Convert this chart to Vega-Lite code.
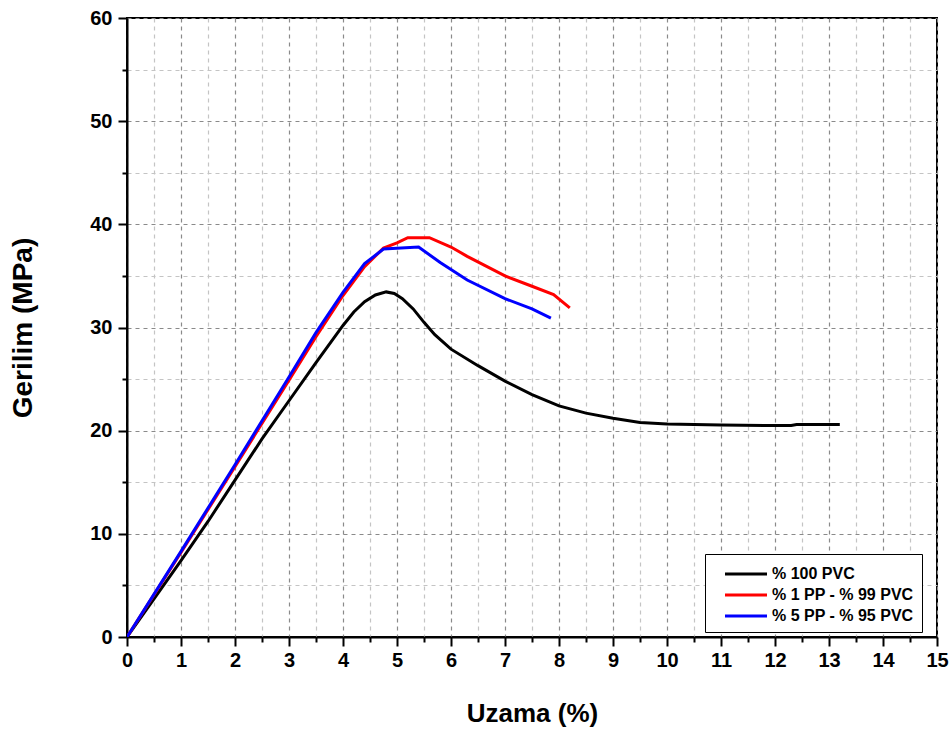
{
  "$schema": "https://vega.github.io/schema/vega-lite/v6.json",
  "width": 810,
  "height": 619,
  "autosize": "none",
  "padding": {"left": 127, "top": 18, "right": 14, "bottom": 101},
  "background": "white",
  "config": {
    "font": "Liberation Sans",
    "view": {"stroke": "black", "strokeWidth": 2}
  },
  "data": {"values": [
    {"x": 0, "y": 0, "s": "% 100 PVC"},
    {"x": 0.5, "y": 3.7, "s": "% 100 PVC"},
    {"x": 1, "y": 7.4, "s": "% 100 PVC"},
    {"x": 1.5, "y": 11.2, "s": "% 100 PVC"},
    {"x": 2, "y": 15.2, "s": "% 100 PVC"},
    {"x": 2.5, "y": 19.2, "s": "% 100 PVC"},
    {"x": 3, "y": 22.9, "s": "% 100 PVC"},
    {"x": 3.5, "y": 26.6, "s": "% 100 PVC"},
    {"x": 4, "y": 30.2, "s": "% 100 PVC"},
    {"x": 4.2, "y": 31.5, "s": "% 100 PVC"},
    {"x": 4.4, "y": 32.5, "s": "% 100 PVC"},
    {"x": 4.6, "y": 33.15, "s": "% 100 PVC"},
    {"x": 4.8, "y": 33.45, "s": "% 100 PVC"},
    {"x": 4.95, "y": 33.3, "s": "% 100 PVC"},
    {"x": 5.1, "y": 32.8, "s": "% 100 PVC"},
    {"x": 5.3, "y": 31.8, "s": "% 100 PVC"},
    {"x": 5.5, "y": 30.5, "s": "% 100 PVC"},
    {"x": 5.7, "y": 29.3, "s": "% 100 PVC"},
    {"x": 6.0, "y": 27.9, "s": "% 100 PVC"},
    {"x": 6.5, "y": 26.3, "s": "% 100 PVC"},
    {"x": 7.0, "y": 24.8, "s": "% 100 PVC"},
    {"x": 7.5, "y": 23.5, "s": "% 100 PVC"},
    {"x": 8.0, "y": 22.4, "s": "% 100 PVC"},
    {"x": 8.5, "y": 21.7, "s": "% 100 PVC"},
    {"x": 9.0, "y": 21.2, "s": "% 100 PVC"},
    {"x": 9.5, "y": 20.8, "s": "% 100 PVC"},
    {"x": 10.0, "y": 20.65, "s": "% 100 PVC"},
    {"x": 11.0, "y": 20.55, "s": "% 100 PVC"},
    {"x": 12.0, "y": 20.5, "s": "% 100 PVC"},
    {"x": 12.3, "y": 20.5, "s": "% 100 PVC"},
    {"x": 12.4, "y": 20.6, "s": "% 100 PVC"},
    {"x": 13.2, "y": 20.6, "s": "% 100 PVC"},
    {"x": 0, "y": 0, "s": "% 1 PP - % 99 PVC"},
    {"x": 1, "y": 8.2, "s": "% 1 PP - % 99 PVC"},
    {"x": 2, "y": 16.5, "s": "% 1 PP - % 99 PVC"},
    {"x": 3, "y": 24.9, "s": "% 1 PP - % 99 PVC"},
    {"x": 3.5, "y": 29.1, "s": "% 1 PP - % 99 PVC"},
    {"x": 4, "y": 33.1, "s": "% 1 PP - % 99 PVC"},
    {"x": 4.4, "y": 35.9, "s": "% 1 PP - % 99 PVC"},
    {"x": 4.75, "y": 37.7, "s": "% 1 PP - % 99 PVC"},
    {"x": 5.0, "y": 38.2, "s": "% 1 PP - % 99 PVC"},
    {"x": 5.2, "y": 38.7, "s": "% 1 PP - % 99 PVC"},
    {"x": 5.6, "y": 38.7, "s": "% 1 PP - % 99 PVC"},
    {"x": 6.0, "y": 37.8, "s": "% 1 PP - % 99 PVC"},
    {"x": 6.3, "y": 36.9, "s": "% 1 PP - % 99 PVC"},
    {"x": 7.0, "y": 35.0, "s": "% 1 PP - % 99 PVC"},
    {"x": 7.5, "y": 34.0, "s": "% 1 PP - % 99 PVC"},
    {"x": 7.9, "y": 33.2, "s": "% 1 PP - % 99 PVC"},
    {"x": 8.2, "y": 31.9, "s": "% 1 PP - % 99 PVC"},
    {"x": 0, "y": 0, "s": "% 5 PP - % 95 PVC"},
    {"x": 1, "y": 8.3, "s": "% 5 PP - % 95 PVC"},
    {"x": 2, "y": 16.7, "s": "% 5 PP - % 95 PVC"},
    {"x": 3, "y": 25.2, "s": "% 5 PP - % 95 PVC"},
    {"x": 3.5, "y": 29.5, "s": "% 5 PP - % 95 PVC"},
    {"x": 4, "y": 33.4, "s": "% 5 PP - % 95 PVC"},
    {"x": 4.4, "y": 36.2, "s": "% 5 PP - % 95 PVC"},
    {"x": 4.75, "y": 37.6, "s": "% 5 PP - % 95 PVC"},
    {"x": 5.4, "y": 37.8, "s": "% 5 PP - % 95 PVC"},
    {"x": 5.8, "y": 36.3, "s": "% 5 PP - % 95 PVC"},
    {"x": 6.3, "y": 34.6, "s": "% 5 PP - % 95 PVC"},
    {"x": 7.0, "y": 32.8, "s": "% 5 PP - % 95 PVC"},
    {"x": 7.5, "y": 31.8, "s": "% 5 PP - % 95 PVC"},
    {"x": 7.85, "y": 30.9, "s": "% 5 PP - % 95 PVC"}
  ]},
  "mark": {"type": "line", "strokeWidth": 3, "clip": true},
  "encoding": {
    "x": {
      "field": "x", "type": "quantitative",
      "scale": {"domain": [0, 15], "nice": false, "zero": false},
      "axis": {
        "title": "Uzama (%)",
        "titleFontSize": 26, "titleFontWeight": "bold", "titleColor": "black", "titlePadding": 30,
        "values": [0,0.5,1,1.5,2,2.5,3,3.5,4,4.5,5,5.5,6,6.5,7,7.5,8,8.5,9,9.5,10,10.5,11,11.5,12,12.5,13,13.5,14,14.5,15],
        "labelExpr": "datum.value % 1 === 0 ? format(datum.value, 'd') : ''",
        "labelFontSize": 20, "labelFontWeight": "bold", "labelColor": "black", "labelPadding": 4,
        "labelFlush": false,
        "labelOverlap": false,
        "domainColor": "black", "domainWidth": 2,
        "tickColor": "black", "tickWidth": 2,
        "tickSize": {"condition": {"test": "datum.value % 1 === 0", "value": 9}, "value": 5},
        "grid": true,
        "gridDash": [4, 4],
        "gridColor": {"condition": {"test": "datum.value % 1 === 0", "value": "#8a8a8a"}, "value": "#c4c4c4"},
        "gridWidth": 1.2
      }
    },
    "y": {
      "field": "y", "type": "quantitative",
      "scale": {"domain": [0, 60], "nice": false},
      "axis": {
        "title": "Gerilim (MPa)",
        "titleFontSize": 28, "titleFontWeight": "bold", "titleColor": "black", "titlePadding": 52,
        "values": [0,5,10,15,20,25,30,35,40,45,50,55,60],
        "labelExpr": "datum.value % 10 === 0 ? format(datum.value, 'd') : ''",
        "labelFontSize": 20, "labelFontWeight": "bold", "labelColor": "black", "labelPadding": 6,
        "labelFlush": false,
        "labelOverlap": false,
        "domainColor": "black", "domainWidth": 2,
        "tickColor": "black", "tickWidth": 2,
        "tickSize": {"condition": {"test": "datum.value % 10 === 0", "value": 9}, "value": 5},
        "grid": true,
        "gridDash": [4, 4],
        "gridColor": {"condition": {"test": "datum.value % 10 === 0", "value": "#8a8a8a"}, "value": "#c4c4c4"},
        "gridWidth": 1.2
      }
    },
    "color": {
      "field": "s", "type": "nominal",
      "scale": {"domain": ["% 100 PVC", "% 1 PP - % 99 PVC", "% 5 PP - % 95 PVC"], "range": ["black", "red", "blue"]},
      "legend": {
        "title": null,
        "orient": "none",
        "legendX": 578,
        "legendY": 536,
        "strokeColor": "black",
        "fillColor": "white",
        "padding": 8,
        "symbolType": "M0,0H4",
        "symbolSize": 441,
        "symbolStrokeWidth": 3,
        "labelFontSize": 16,
        "labelFontWeight": "bold",
        "labelColor": "black",
        "labelOffset": 35,
        "rowPadding": 1,
        "labelLimit": 300
      }
    }
  }
}
